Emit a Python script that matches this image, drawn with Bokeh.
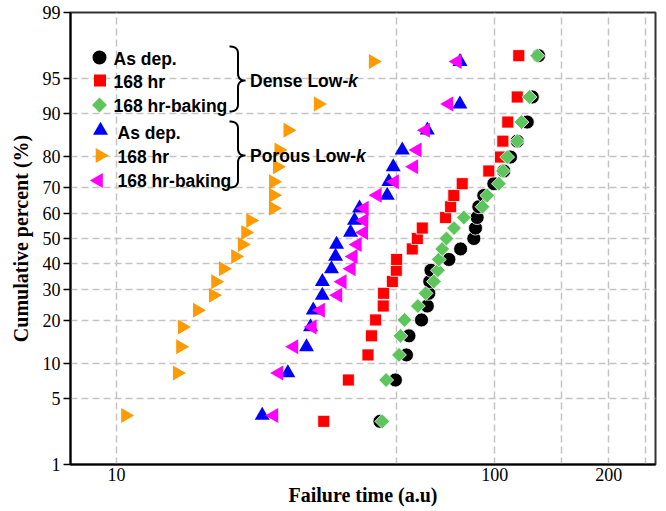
import numpy as np
from statistics import NormalDist
from bokeh.plotting import figure
from bokeh.models import Range1d, FixedTicker, CustomJSTickFormatter
from bokeh.core.properties import value
from bokeh.embed import file_html
from bokeh.resources import INLINE

# ---------------- data ----------------
# cumulative percent (median ranks) : dense low-k (23 samples), porous low-k (20 samples)
dense_pct = [2.99, 7.26, 11.54, 15.81, 20.09, 24.36, 28.63, 32.91, 37.18, 41.45, 45.73, 50.0,
             54.27, 58.55, 62.82, 67.09, 71.37, 75.64, 79.91, 84.19, 88.46, 92.74, 97.01]
porous_pct = [3.43, 8.33, 13.24, 18.14, 23.04, 27.94, 32.84, 37.75, 42.65, 47.55, 52.45, 57.35,
              62.25, 67.16, 72.06, 76.96, 81.86, 86.76, 91.67, 96.57]

dense_asdep = [49.7, 54.6, 58.4, 59.3, 64.0, 66.3, 66.9, 67.3, 67.8, 75.6, 81.2, 88.0,
               88.9, 89.8, 90.7, 93.5, 99.4, 105.6, 110.0, 114.6, 121.8, 125.6, 130.5]
dense_168 = [35.3, 41.0, 46.2, 47.2, 48.4, 50.7, 50.8, 53.6, 54.9, 55.0, 60.5, 62.4,
             64.3, 74.1, 76.4, 77.9, 82.0, 96.4, 103.5, 105.0, 108.2, 114.6, 115.7]
dense_bake = [50.4, 51.6, 55.8, 56.3, 57.7, 62.6, 65.6, 69.0, 70.7, 71.1, 72.6, 74.5,
              78.0, 82.8, 92.8, 95.5, 102.5, 105.1, 107.8, 114.6, 117.6, 123.5, 129.5]
porous_asdep = [24.27, 28.37, 31.78, 32.57, 33.11, 34.98, 35.0, 37.0, 37.93, 38.16, 41.55, 42.57,
                43.89, 51.95, 52.46, 53.88, 56.93, 66.3, 80.84, 80.9]
porous_168 = [10.56, 14.47, 14.76, 14.92, 16.35, 18.02, 18.27, 19.15, 20.63, 21.49, 21.93, 22.61,
              25.96, 25.97, 25.98, 26.60, 26.85, 28.37, 34.14, 47.7]
porous_bake = [26.05, 26.85, 29.43, 32.92, 34.62, 38.46, 39.50, 41.73, 42.24, 43.29, 45.0, 45.1,
               45.2, 48.89, 54.31, 61.07, 62.35, 65.58, 75.56, 79.55]

y_tick_pcts = [1, 5, 10, 20, 30, 40, 50, 60, 70, 80, 90, 95, 99]
y_tick_labels = ["1", "5", "10", "20", "30", "40", "50", "60", "70", "80", "90", "95", "99"]
x_tick_vals = [10, 100, 200]
x_grid_vals = [10, 55, 100, 150, 200, 250]

# ---------------- helpers ----------------
nd = NormalDist()
def probit(pcts):
    return [nd.inv_cdf(v / 100.0) for v in pcts]

W, H = 666, 511
L, R, T, B = 70, 11, 12, 47
FW, FH = W - L - R, H - T - B
XMIN, XMAX = 7.556, 265.9
YMIN, YMAX = nd.inv_cdf(0.01), nd.inv_cdf(0.99)

def dx(px):
    lo, hi = np.log10(XMIN), np.log10(XMAX)
    return 10 ** (lo + (px - L) / FW * (hi - lo))

def dy(py):
    return YMAX - (py - T) / FH * (YMAX - YMIN)

p = figure(width=W, height=H, x_axis_type="log",
           x_range=Range1d(XMIN, XMAX), y_range=Range1d(YMIN, YMAX),
           output_backend="svg", toolbar_location=None,
           min_border_left=L, min_border_right=R, min_border_top=T, min_border_bottom=B)
p.background_fill_color = "white"
p.border_fill_color = "white"
p.outline_line_color = "#333333"
p.outline_line_width = 2

# axes
SERIF = "Liberation Serif"
p.yaxis.ticker = FixedTicker(ticks=probit(y_tick_pcts))
p.yaxis.formatter = CustomJSTickFormatter(args=dict(vals=probit(y_tick_pcts), labs=y_tick_labels), code="""
let best = 0;
for (let i = 0; i < vals.length; i++) {
  if (Math.abs(vals[i] - tick) < Math.abs(vals[best] - tick)) best = i;
}
return labs[best];
""")
p.xaxis.ticker = FixedTicker(ticks=x_tick_vals)
p.xaxis.formatter = CustomJSTickFormatter(code="return tick.toFixed(0);")

for ax in (p.xaxis[0], p.yaxis[0]):
    ax.axis_line_color = "black"
    ax.axis_line_width = 2
    ax.major_label_text_font = SERIF
    ax.major_label_text_font_size = "18px"
    ax.major_label_text_color = "black"
    ax.minor_tick_line_color = None
    ax.axis_label_text_font = SERIF
    ax.axis_label_text_font_style = "bold"
    ax.axis_label_text_font_size = "20px"
    ax.axis_label_text_color = "black"

p.yaxis.major_tick_out = 7
p.yaxis.major_tick_in = 0
p.yaxis.major_tick_line_color = "black"
p.yaxis.major_tick_line_width = 1.5
p.yaxis.major_label_standoff = 3
p.yaxis.axis_label = "Cumulative percent (%)"
p.yaxis.axis_label_standoff = 8

p.xaxis.major_tick_line_color = None
p.xaxis.major_tick_out = 0
p.xaxis.major_tick_in = 0
p.xaxis.major_label_standoff = 3
p.xaxis.axis_label = "Failure time (a.u)"
p.xaxis.axis_label_standoff = 0

# grids
p.xgrid.ticker = FixedTicker(ticks=x_grid_vals)
p.ygrid.ticker = FixedTicker(ticks=probit(y_tick_pcts[1:-1]))
for g in (p.xgrid[0], p.ygrid[0]):
    g.grid_line_color = "#c4c4c4"
    g.grid_line_dash = "7 4"
    g.grid_line_width = 1.5

# ---------------- data markers ----------------
BLACK, RED, GREEN = "#000000", "#ff0000", "#5cc55c"
BLUE, ORANGE, MAGENTA = "#0000ff", "#ff9a00", "#ff00ff"

p.scatter(dense_asdep, probit(dense_pct), marker="circle", size=14, fill_color=BLACK, line_color="white", line_width=0.8)
p.scatter(dense_168, probit(dense_pct), marker="square", size=12, fill_color=RED, line_color="white", line_width=0.8)
p.scatter(dense_bake, probit(dense_pct), marker="square", angle=np.pi / 4, size=10.5, fill_color=GREEN, line_color="white", line_width=0.8)
p.scatter(porous_asdep, probit(porous_pct), marker="triangle", size=15, fill_color=BLUE, line_color=None)
p.scatter(porous_168, probit(porous_pct), marker="triangle", angle=-np.pi / 2, size=15, fill_color=ORANGE, line_color=None)
p.scatter(porous_bake, probit(porous_pct), marker="triangle", angle=np.pi / 2, size=15, fill_color=MAGENTA, line_color=None)

# ---------------- custom legend ----------------
SANS = "Liberation Sans"
leg = [
    ("circle", 0, 14, BLACK, 99, 57, "As dep.", 113, 58),
    ("square", 0, 12, RED, 99.5, 80, "168 hr", 113, 81),
    ("square", np.pi / 4, 10.5, GREEN, 99, 104.5, "168 hr-baking", 113, 105),
    ("triangle", 0, 15, BLUE, 100, 130, "As dep.", 117, 132),
    ("triangle", -np.pi / 2, 15, ORANGE, 99.5, 155, "168 hr", 117, 156),
    ("triangle", np.pi / 2, 15, MAGENTA, 98, 180, "168 hr-baking", 117, 180),
]
for mk, ang, sz, col, mx, my, txt, tx, ty in leg:
    p.scatter([dx(mx)], [dy(my)], marker=mk, angle=ang, size=sz, fill_color=col, line_color=None)
    p.text([dx(tx)], [dy(ty)], text=[txt], text_font=value(SANS), text_font_style="bold",
           text_font_size="17.5px", text_baseline="middle", text_align="left", text_color="black")

def brace(ytop, ymid, ybot, x0=229.0, xc=237.5, xt=245.0, r=7.0, n=12):
    pts = []
    def quad(a, c, b):
        t = np.linspace(0, 1, n)
        return [((1 - s) ** 2 * a[0] + 2 * (1 - s) * s * c[0] + s ** 2 * b[0],
                 (1 - s) ** 2 * a[1] + 2 * (1 - s) * s * c[1] + s ** 2 * b[1]) for s in t]
    pts += quad((x0, ytop), (xc, ytop), (xc, ytop + r))
    pts += [(xc, ymid - r)]
    pts += quad((xc, ymid - r), (xc, ymid), (xt, ymid))
    pts += quad((xt, ymid), (xc, ymid), (xc, ymid + r))
    pts += [(xc, ybot - r)]
    pts += quad((xc, ybot - r), (xc, ybot), (x0, ybot))
    return [dx(a) for a, b in pts], [dy(b) for a, b in pts]

for (yt, ym, yb, label, kx) in [(46, 80, 111, "Dense Low-", 347.5), (121, 155, 187, "Porous Low-", 355.5)]:
    bx, by = brace(yt, ym, yb)
    p.line(bx, by, line_color="black", line_width=2)
    p.text([dx(249.5)], [dy(ym)], text=[label], text_font=value(SANS), text_font_style="bold",
           text_font_size="17.5px", text_baseline="middle", text_align="left", text_color="black")
    p.text([dx(kx)], [dy(ym)], text=["k"], text_font=value(SANS), text_font_style="bold italic",
           text_font_size="17.5px", text_baseline="middle", text_align="left", text_color="black")

open("out.html", "w").write(file_html(p, INLINE))
